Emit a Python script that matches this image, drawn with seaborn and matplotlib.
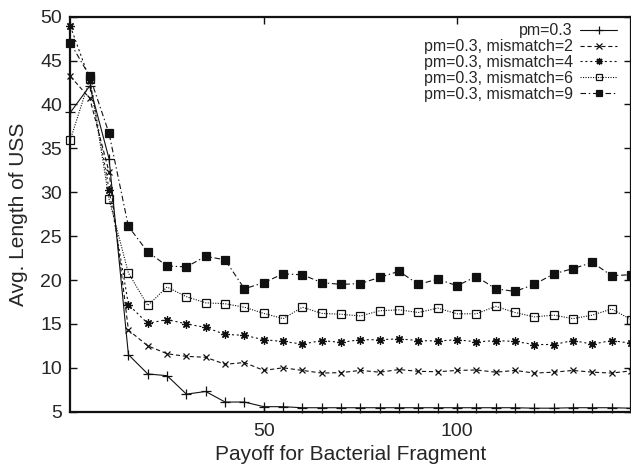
import matplotlib
matplotlib.use("Agg")
import matplotlib.pyplot as plt
import seaborn as sns

# payoff values (x) and avg USS length for each run
payoff = [0, 5, 10, 15, 20, 25, 30, 35, 40, 45,
          50, 55, 60, 65, 70, 75, 80, 85, 90, 95,
          100, 105, 110, 115, 120, 125, 130, 135, 140, 145]

pm03 = [39.1, 42.1, 33.8, 11.5, 9.3, 9.1, 7.0, 7.3, 6.1, 6.1,
        5.57, 5.57, 5.45, 5.45, 5.45, 5.45, 5.45, 5.45, 5.45, 5.45,
        5.45, 5.45, 5.45, 5.45, 5.4, 5.4, 5.45, 5.45, 5.45, 5.4]
mm2 = [43.2, 40.7, 32.3, 14.3, 12.5, 11.6, 11.3, 11.2, 10.4, 10.6,
       9.7, 10.0, 9.7, 9.4, 9.45, 9.7, 9.5, 9.8, 9.6, 9.55,
       9.7, 9.75, 9.5, 9.7, 9.4, 9.5, 9.7, 9.5, 9.4, 9.65]
mm4 = [48.9, 42.8, 30.3, 17.2, 15.05, 15.5, 15.0, 14.6, 13.8, 13.7,
       13.2, 13.0, 12.7, 13.1, 12.9, 13.2, 13.2, 13.3, 13.1, 13.05,
       13.2, 12.95, 13.1, 13.0, 12.65, 12.65, 13.1, 12.7, 13.1, 12.8]
mm6 = [36.0, 42.9, 29.2, 20.8, 17.1, 19.2, 18.1, 17.4, 17.3, 16.9,
       16.2, 15.6, 16.9, 16.2, 16.1, 15.9, 16.5, 16.6, 16.3, 16.8,
       16.15, 16.15, 17.0, 16.3, 15.8, 16.0, 15.6, 16.0, 16.7, 15.5]
mm9 = [47.0, 43.2, 36.7, 26.1, 23.2, 21.6, 21.5, 22.7, 22.3, 19.0,
       19.7, 20.7, 20.6, 19.7, 19.5, 19.6, 20.3, 21.0, 19.5, 20.1,
       19.35, 20.4, 19.0, 18.7, 19.5, 20.7, 21.3, 22.0, 20.5, 20.6]

labels = ["pm=0.3", "pm=0.3, mismatch=2", "pm=0.3, mismatch=4",
          "pm=0.3, mismatch=6", "pm=0.3, mismatch=9"]

sns.set_theme(style="ticks")
plt.rcParams["font.family"] = ["Liberation Sans", "DejaVu Sans"]
plt.rcParams["lines.scale_dashes"] = False

fig = plt.figure(figsize=(6.31, 4.75), dpi=100)
ax = fig.add_axes([0.1116, 0.1333, 0.8884, 0.8316])

styles = [
    dict(linestyle="-", marker="+", markersize=7),
    dict(linestyle=(0, (3, 2)), marker="x", markersize=5),
    dict(linestyle=(0, (1.5, 2)), marker=(8, 2, 0), markersize=6),
    dict(linestyle=(0, (0.8, 1)), marker="s", markersize=5.5, fillstyle="none"),
    dict(linestyle=(0, (4, 2, 1, 2)), marker="s", markersize=5.5),
]
series = [pm03, mm2, mm4, mm6, mm9]

for vals, lab, st in zip(series, labels, styles):
    sns.lineplot(x=payoff, y=vals, ax=ax, color="#111111", linewidth=0.8,
                 markeredgewidth=0.9, markeredgecolor="#111111",
                 label=lab, clip_on=False, **st)

ax.set_xlim(0, 145)
ax.set_ylim(5, 50)
ax.set_xticks([50, 100])
ax.set_yticks(range(5, 51, 5))
ax.tick_params(direction="in", top=True, right=True, length=5, width=1,
               labelsize=14, color="#111111")
ax.tick_params(axis="x", pad=8.5)
ax.tick_params(axis="y", pad=6)
for s in ax.spines.values():
    s.set_linewidth(1.6)
    s.set_color("#111111")

ax.set_xlabel("Payoff for Bacterial Fragment", fontsize=15, labelpad=3)
ax.set_ylabel("Avg. Length of USS", fontsize=15, labelpad=9)

leg = ax.legend(loc="upper right", frameon=False, fontsize=11.5,
                markerfirst=False, handlelength=2.3, handletextpad=0.46,
                labelspacing=0.05, borderaxespad=0, borderpad=0,
                markerscale=0.85, bbox_to_anchor=(0.975, 0.983))
# right-justify key text like gnuplot
leg._legend_handle_box.get_children()[0].align = "right"

fig.savefig("out.png", dpi=100)
